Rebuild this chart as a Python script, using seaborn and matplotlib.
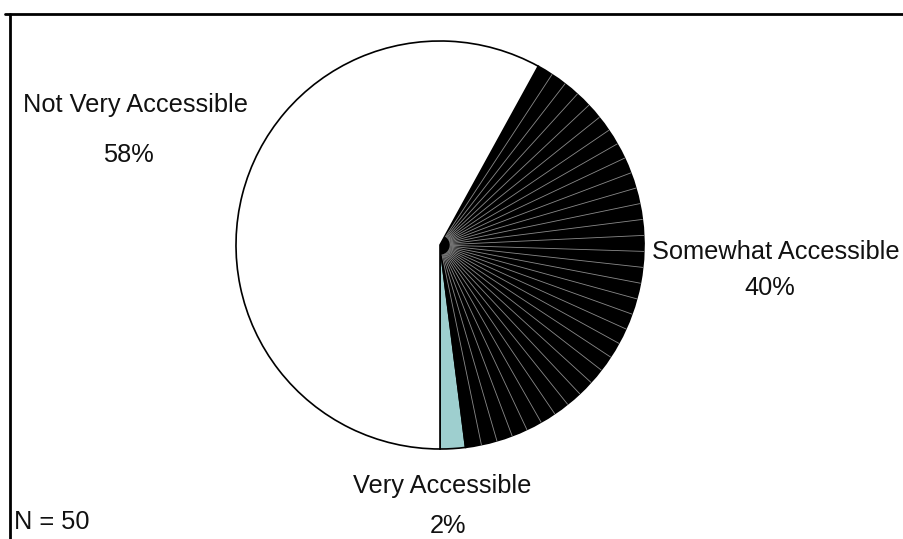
import numpy as np
import matplotlib
matplotlib.use("Agg")
import matplotlib.pyplot as plt
import seaborn as sns
from matplotlib.lines import Line2D

categories = ["Very Accessible", "Somewhat Accessible", "Not Very Accessible"]
values = [2, 40, 58]
pct_labels = ["2%", "40%", "58%"]
sample_label = "N = 50"

sns.set_theme(style="white")
plt.rcParams['font.family'] = ['Liberation Sans', 'DejaVu Sans']

W, H = 904, 539
fig = plt.figure(figsize=(W / 100, H / 100), dpi=100)
ax = fig.add_axes([0, 0, 1, 1])

cx, cy, r = 440, H - 245, 204
colors = ["#9ecfcf", "#000000", "#ffffff"]
wedges, _ = ax.pie(values, colors=colors, startangle=270, counterclock=True,
                   center=(cx, cy), radius=r, frame=True,
                   wedgeprops=dict(edgecolor="black", linewidth=1.2))
ax.set_xlim(0, W)
ax.set_ylim(0, H)
ax.set_aspect('equal')
ax.axis('off')

# gradient-like radial lines inside the "Somewhat Accessible" wedge
w = wedges[1]
n_lines = 32
angs = np.linspace(w.theta1, w.theta2, n_lines + 1)[1:-1]
for a in angs:
    t = np.deg2rad(a)
    ax.plot([cx + 10 * np.cos(t), cx + r * np.cos(t)],
            [cy + 10 * np.sin(t), cy + r * np.sin(t)],
            color="#8a8a8a", lw=0.6, zorder=3)

fs = 18.3
tc = '#111111'
ax.text(136, H - 105, categories[2], ha='center', va='center', fontsize=fs, color=tc)
ax.text(128, H - 155, pct_labels[2], ha='center', va='center', fontsize=fs, color=tc)
ax.text(776, H - 252, categories[1], ha='center', va='center', fontsize=fs, color=tc)
ax.text(770, H - 288, pct_labels[1], ha='center', va='center', fontsize=fs, color=tc)
ax.text(442, H - 486, categories[0], ha='center', va='center', fontsize=fs, color=tc)
ax.text(448, H - 526, pct_labels[0], ha='center', va='center', fontsize=fs, color=tc)
ax.text(14, H - 522, sample_label, ha='left', va='center', fontsize=fs, color=tc)

# frame lines (top and left)
fig.add_artist(Line2D([5 / W, 1], [1 - 14 / H, 1 - 14 / H], transform=fig.transFigure,
                      color='black', lw=2))
fig.add_artist(Line2D([9.5 / W, 9.5 / W], [1 - 14 / H, 0], transform=fig.transFigure,
                      color='black', lw=2))

fig.savefig("out.png", dpi=100, facecolor="white")
